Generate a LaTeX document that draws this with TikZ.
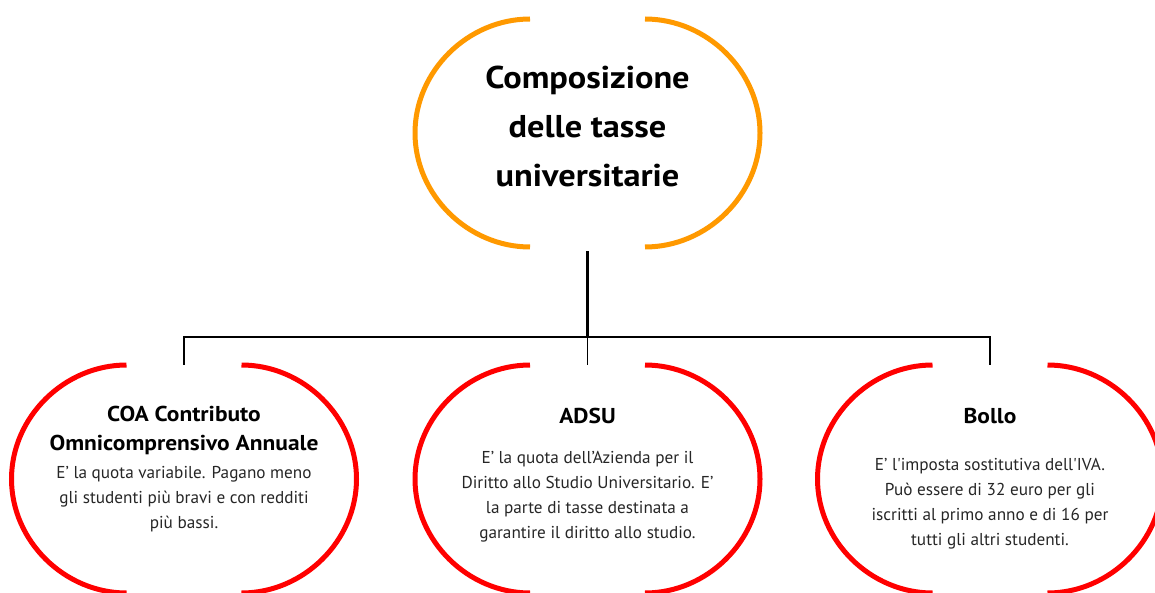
\documentclass[tikz,border=0pt]{standalone}
\usepackage{fontspec}
\setmainfont{PT Sans}[Ligatures=TeXOff, BoldFeatures={FakeStretch=1.09}]
\usetikzlibrary{shapes.geometric}
\definecolor{orng}{HTML}{FF9900}
\definecolor{rd}{HTML}{FF0000}
\begin{document}
\begin{tikzpicture}[x=1pt,y=1pt,
  shell/.style={ellipse, minimum width=345pt, minimum height=228pt, inner sep=0pt},
  rim/.style={line width=5pt},
  stem/.style={line width=2.5pt, black},
  link/.style={line width=1.5pt, black},
  ttl/.style={font=\bfseries\fontsize{31.5}{49}\selectfont, align=center},
  hd/.style={font=\bfseries\fontsize{21.5}{29}\selectfont, align=center},
  bd/.style={font=\fontsize{17.2}{25}\selectfont, align=center, text=black!85}]
\useasboundingbox (0,0) rectangle (1155,-593);
\node[shell] (top) at (587.5,-133) {};
\node[shell] (c1) at (184,-479) {};
\node[shell] (c2) at (587.5,-479) {};
\node[shell] (c3) at (990,-479) {};
\foreach \n/\c in {top/orng, c1/rd, c2/rd, c3/rd}{
  \begin{scope}[shift={(\n.center)}]
    \draw[rim, \c] (-57.5,114) .. controls (-119.5,114) and (-172.5,62) .. (-172.5,0)
      .. controls (-172.5,-62) and (-119.5,-114) .. (-57.5,-114);
    \draw[rim, \c] (57.5,114) .. controls (119.5,114) and (172.5,62) .. (172.5,0)
      .. controls (172.5,-62) and (119.5,-114) .. (57.5,-114);
  \end{scope}
}
\coordinate (bus) at (587.5,-337);
\draw[stem, shorten <=4pt] (top.south) -- (bus);
\draw[link] (bus) -| (c1.north);
\draw[link] (bus) -| (c3.north);
\draw[link] (bus) -- (c2.north);
\node[ttl] (t0) at (587.5,-126) {Composizione\\delle tasse\\universitarie};
\node[hd] (h1) at (184,-430.5) {COA Contributo\\Omnicomprensivo Annuale};
\node[bd] (b1) at (184,-499) {E’ la quota variabile. Pagano meno\\gli studenti più bravi e con redditi\\più bassi.};
\node[hd] (h2) at (587.5,-416) {ADSU};
\node[bd] (b2) at (587.5,-497) {E’ la quota dell’Azienda per il\\Diritto allo Studio Universitario. E’\\la parte di tasse destinata a\\garantire il diritto allo studio.};
\node[hd] (h3) at (990,-416) {Bollo};
\node[bd] (b3) at (990,-503.5) {E’ l'imposta sostitutiva dell'IVA.\\Può essere di 32 euro per gli\\iscritti al primo anno e di 16 per\\tutti gli altri studenti.};
\end{tikzpicture}
\end{document}
